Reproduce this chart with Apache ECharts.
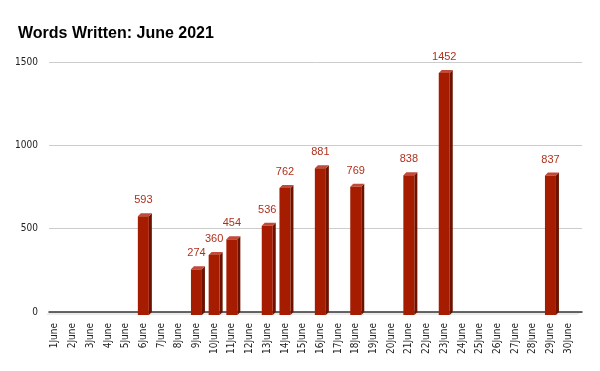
<!DOCTYPE html>
<html><head><meta charset="utf-8">
<script src="https://cdn.jsdelivr.net/npm/echarts@6/dist/echarts.min.js"></script>
<style>html,body{margin:0;padding:0;background:#fff}#c{width:600px;height:371px}</style>
</head><body><div id="c"></div>
<script>
var days = ['1June','2June','3June','4June','5June','6June','7June','8June','9June','10June',
  '11June','12June','13June','14June','15June','16June','17June','18June','19June','20June',
  '21June','22June','23June','24June','25June','26June','27June','28June','29June','30June'];
var words = [null,null,null,null,null,593,null,null,274,360,
  454,null,536,762,null,881,null,769,null,null,
  838,null,1452,null,null,null,null,null,837,null];
var yTicks = [0, 500, 1000, 1500];

var narrow = "'DejaVu Sans Condensed',sans-serif";
var chart = echarts.init(document.getElementById('c'), null, {renderer:'canvas'});
var D = 3;
var barData = [];
for (var i = 0; i < words.length; i++) if (words[i] != null) barData.push([days[i], words[i]]);

chart.setOption({
  animation:false,
  title:{text:'Words Written: June 2021', left:13, top:21,
    textStyle:{fontFamily:'Liberation Sans, Arial, sans-serif', fontSize:16, fontWeight:'bold', color:'#000'}},
  grid:[
    {left:49, right:18, top:62, bottom:59},
    {left:46, right:23, top:65, bottom:56}
  ],
  xAxis:[
    {gridIndex:0, type:'category', data:days, axisTick:{show:false}, axisLabel:{show:false},
     axisLine:{show:true, lineStyle:{color:'#333', width:1.5}}, z:5},
    {gridIndex:1, type:'category', data:days, axisTick:{show:false}, axisLine:{show:false},
     axisLabel:{interval:0, rotate:90, margin:8, fontFamily:narrow, fontSize:10, color:'#222'}}
  ],
  yAxis:[
    {gridIndex:0, type:'value', min:yTicks[0], max:yTicks[3], interval:500,
     axisLine:{show:false}, axisTick:{show:false},
     axisLabel:{margin:11, fontFamily:narrow, fontSize:10, color:'#222',
       formatter:function(v){return String(v);}},
     splitLine:{lineStyle:{color:'#cccccc', width:1}}},
    {gridIndex:1, type:'value', min:yTicks[0], max:yTicks[3], interval:500, show:false}
  ],
  series:[
    {type:'custom', xAxisIndex:1, yAxisIndex:1, data:[[days[0],0]], z:1, silent:true,
     renderItem:function(params, api){
       var w = api.size([1,0])[0];
       var l = api.coord([days[0],0]); var r = api.coord([days[days.length-1],0]);
       var x0 = l[0]-w/2, x1 = r[0]+w/2, y = l[1];
       return {type:'polygon', shape:{points:[[x0+D,y-D],[x1+D+2,y-D],[x1,y],[x0,y]]},
         style:{fill:'#ebebeb'}};
     }},
    {type:'custom', xAxisIndex:1, yAxisIndex:1, data:barData, z:10,
     renderItem:function(params, api){
       var top = api.coord([api.value(0), api.value(1)]);
       var base = api.coord([api.value(0), 0]);
       var hw = 5.5, cx = top[0], yt = top[1], yb = base[1];
       return {type:'group', children:[
         {type:'polygon', shape:{points:[[cx+hw,yt],[cx+hw+D,yt-D],[cx+hw+D,yb-D],[cx+hw,yb]]},
          style:{fill:'#6b1300'}},
         {type:'polygon', shape:{points:[[cx-hw,yt],[cx-hw+D,yt-D],[cx+hw+D,yt-D],[cx+hw,yt]]},
          style:{fill:'#c24a38'}},
         {type:'rect', shape:{x:cx-hw, y:yt, width:2*hw, height:yb-yt},
          style:{fill:'#a61c00'}},
         {type:'text', style:{text:String(api.value(1)), x:cx, y:yt-D-13, align:'center', verticalAlign:'middle',
          fill:'#b0301c', font:'11px Liberation Sans, Arial, sans-serif'}}
       ]};
     }}
  ]
});
</script></body></html>
